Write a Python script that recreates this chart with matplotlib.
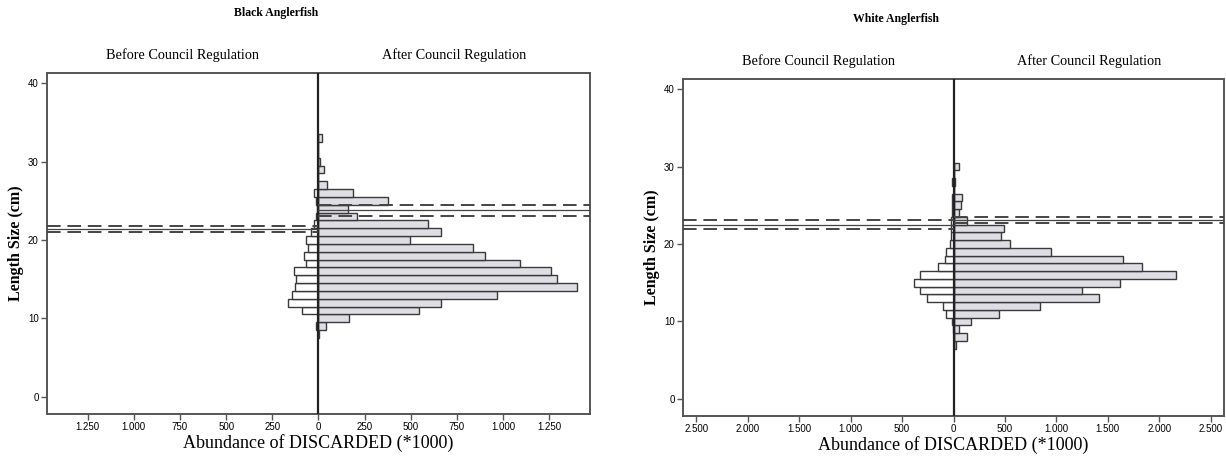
import matplotlib
matplotlib.use("Agg")
import matplotlib.pyplot as plt
import numpy as np

# ---------------- data ----------------
black_len = [8, 9, 10, 11, 12, 13, 14, 15, 16, 17, 18, 19, 20, 21, 22, 23, 24, 25, 26, 27, 28, 29, 30, 31, 32, 33]
black_after = [5, 40, 165, 545, 665, 965, 1397, 1293, 1261, 1092, 899, 835, 495, 663, 594, 208, 158, 377, 188, 44, 0, 32, 10, 0, 0, 20]
black_before = [0, 15, 3, 92, 165, 145, 125, 120, 132, 66, 80, 58, 65, 42, 27, 15, 10, 15, 22, 0, 0, 0, 0, 0, 0, 5]

white_len = [7, 8, 9, 10, 11, 12, 13, 14, 15, 16, 17, 18, 19, 20, 21, 22, 23, 24, 25, 26, 27, 28, 29, 30]
white_after = [23, 133, 49, 168, 443, 841, 1414, 1252, 1618, 2162, 1828, 1650, 951, 550, 466, 492, 129, 55, 74, 78, 5, 10, 5, 49]
white_before = [0, 0, 5, 19, 74, 104, 259, 330, 382, 324, 146, 84, 74, 36, 26, 26, 26, 10, 10, 19, 0, 10, 0, 0]

# reference lines (cm): (dashed, solid, dashed) for before / after sides
black_ref_before = [21.75, 21.4, 21.05]
black_ref_after = [24.4, 23.8, 23.1]
white_ref_before = [23.1, 22.5, 21.9]
white_ref_after = [23.5, 23.1, 22.75]

black_ticks = [-1250, -1000, -750, -500, -250, 0, 250, 500, 750, 1000, 1250]
white_ticks = [-2500, -2000, -1500, -1000, -500, 0, 500, 1000, 1500, 2000, 2500]
y_ticks = [0, 10, 20, 30, 40]

titles = ["Black Anglerfish", "White Anglerfish"]
side_labels = ["Before Council Regulation", "After Council Regulation"]
xlabel = "Abundance of DISCARDED (*1000)"
ylabel = "Length Size (cm)"

# ---------------- figure ----------------
W, H = 1226, 459
fig = plt.figure(figsize=(W / 100, H / 100), dpi=100)

serif = "Liberation Serif"
sans = "Liberation Sans"
frame_col = "#555555"
bar_edge = "#3a3a3a"
after_fill = "#dedee4"


def fmt(v):
    v = abs(int(v))
    return f"{v:,}".replace(",", ".")


def panel(rect, lens, after, before, ticks, xlim, ref_b, ref_a, title, title_x, hdr_y, title_y):
    ax = fig.add_axes(rect)
    ax.barh(lens, after, height=1.0, left=0, color=after_fill, edgecolor=bar_edge, linewidth=1.0, zorder=2)
    ax.barh(lens, [-b for b in before], height=1.0, left=0, color="white", edgecolor=bar_edge, linewidth=1.0, zorder=2)
    ax.axvline(0, color="#222222", lw=1.6, zorder=3)
    for i, y in enumerate(ref_b):
        ls = "-" if i == 1 else (0, (7, 3.5))
        lw = 0.9 if i == 1 else 1.4
        ax.plot([-xlim, 0], [y, y], color="#444444", ls=ls, lw=lw, zorder=4)
    for i, y in enumerate(ref_a):
        ls = "-" if i == 1 else (0, (7, 3.5))
        lw = 0.9 if i == 1 else 1.4
        ax.plot([0, xlim], [y, y], color="#444444", ls=ls, lw=lw, zorder=4)
    ax.set_xlim(-xlim, xlim)
    ax.set_ylim(-2.2, 41.3)
    ax.set_xticks(ticks)
    ax.set_xticklabels([fmt(t) for t in ticks], fontfamily=sans, fontsize=7)
    ax.set_yticks(y_ticks)
    ax.set_yticklabels([str(t) for t in y_ticks], fontfamily=sans, fontsize=7)
    ax.tick_params(axis="both", direction="out", length=4, width=1.0, color=frame_col, pad=2)
    ax.tick_params(axis="x", pad=2)
    for s in ax.spines.values():
        s.set_color(frame_col)
        s.set_linewidth(1.4)
    ax.set_xlabel(xlabel, fontfamily=serif, fontsize=13, labelpad=1)
    ax.set_ylabel(ylabel, fontfamily=serif, fontsize=11.5, fontweight="bold", labelpad=3)
    fig.text((rect[0] + rect[2] * 0.25), 1 - hdr_y / H, side_labels[0], ha="center", va="center",
             fontfamily=serif, fontsize=10.3)
    fig.text((rect[0] + rect[2] * 0.75), 1 - hdr_y / H, side_labels[1], ha="center", va="center",
             fontfamily=serif, fontsize=10.3)
    fig.text(title_x / W, 1 - title_y / H, title, ha="center", va="center", fontfamily=serif,
             fontsize=8.5, fontweight="bold")
    return ax


panel([47 / W, 1 - 414 / H, 543 / W, 341 / H], black_len, black_after, black_before,
      black_ticks, 1470, black_ref_before, black_ref_after, titles[0], 276, 55, 13)
panel([683 / W, 1 - 416 / H, 541 / W, 337 / H], white_len, white_after, white_before,
      white_ticks, 2630, white_ref_before, white_ref_after, titles[1], 896, 61, 19)

fig.savefig("out.png", dpi=100, facecolor="white")
